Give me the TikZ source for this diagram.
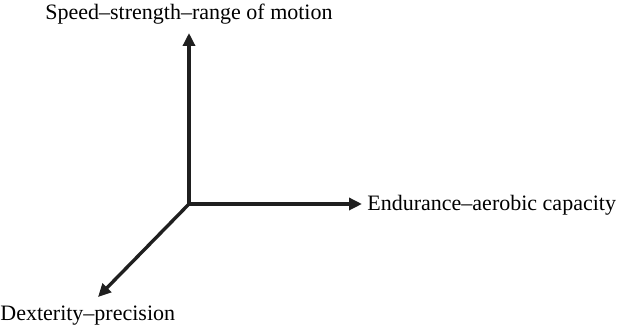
\documentclass[tikz,border=0pt]{standalone}
\usepackage{fontspec}
\setmainfont{Liberation Serif}
\usetikzlibrary{arrows.meta, positioning}

\begin{document}
\begin{tikzpicture}[x=0.5pt, y=-0.5pt, >={Triangle[length=6.5pt, width=6pt]}, font=\fontsize{11}{13}\selectfont]
	\useasboundingbox (0,0) rectangle (623,330);
	\tikzset{axis/.style={->, line width=1.7pt, color=black!88}}
	\coordinate (origin) at (189,204);
	\coordinate (speedtip) at (189,33);
	\coordinate (endurtip) at (362,204);
	\coordinate (dextip) at (98,297);
	\draw[axis] (origin) -- (speedtip);
	\draw[axis] (origin) -- (endurtip);
	\draw[axis] (origin) -- (dextip);
	\node[anchor=south, inner sep=0pt] (speed) at (189,25) {Speed--strength--range of motion};
	\node[anchor=west, inner sep=0pt] (endur) at (367,205) {Endurance--aerobic capacity};
	\node[anchor=north west, inner sep=0pt] (dex) at (0,306) {Dexterity--precision};
\end{tikzpicture}
\end{document}
